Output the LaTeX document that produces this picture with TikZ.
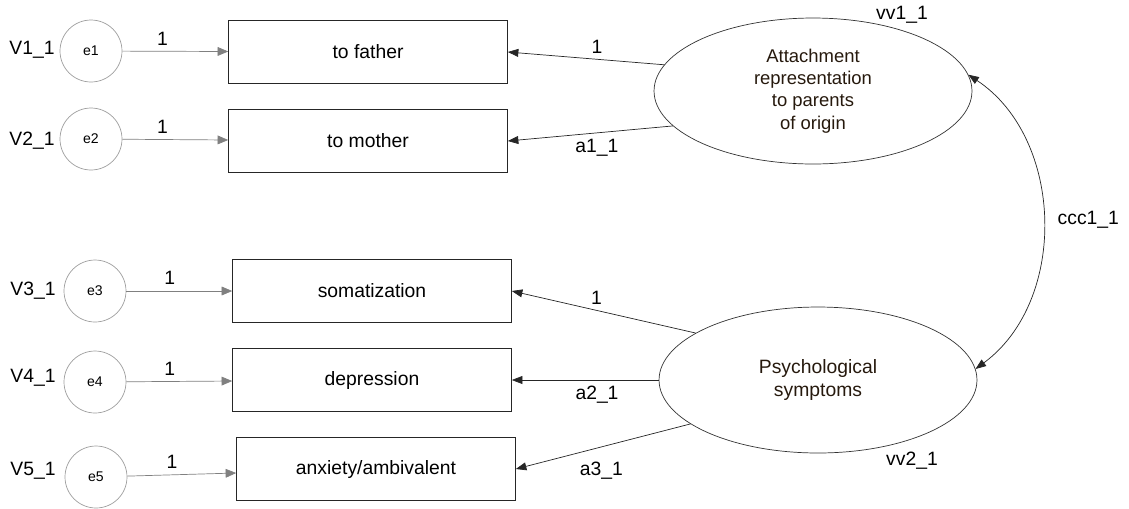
\documentclass[tikz,border=0pt]{standalone}
\usepackage{fontspec}
\setmainfont{Liberation Sans}
\usetikzlibrary{shapes.geometric,arrows.meta}

\begin{document}
\begin{tikzpicture}[x=0.02cm, y=-0.02cm,
  every node/.style={font=\fontsize{11}{13}\selectfont},
  err/.style={circle, draw=gray!75, minimum size=1.24cm, inner sep=0pt, font=\fontsize{8}{10}\selectfont},
  obs/.style={rectangle, draw=black!85, minimum width=5.58cm, minimum height=1.26cm},
  lat/.style={ellipse, draw=black!80, minimum width=6.36cm, minimum height=2.92cm, align=center, text=black!80!brown},
  errarrow/.style={draw=gray, -{Triangle[length=6pt,width=5pt]}},
  load/.style={draw=black!85, -{Triangle[length=6pt,width=4.5pt]}},
  cov/.style={draw=black!85, {Triangle[length=6pt,width=4.5pt]}-{Triangle[length=6pt,width=4.5pt]}}]
\useasboundingbox (0,0) rectangle (1129,508);

\node[err] (e1) at (91,51) {e1};
\node[err] (e2) at (91,139) {e2};
\node[err] (e3) at (95,291) {e3};
\node[err] (e4) at (95,382) {e4};
\node[err] (e5) at (96,477) {e5};

\node (v1) at (32,50) {V1\_1};
\node (v2) at (32,141) {V2\_1};
\node (v3) at (33,291) {V3\_1};
\node (v4) at (33,378) {V4\_1};
\node (v5) at (33,471) {V5\_1};

\node[obs] (fa) at (368,52) {to father};
\node[obs] (mo) at (368,141) {to mother};
\node[obs] (so) at (372,291) {somatization};
\node[obs] (de) at (372,380) {depression};
\node[obs] (an) at (376,469) {anxiety/ambivalent};

\node[lat, font=\fontsize{10.5}{12.7}\selectfont] (att) at (813,91) {Attachment\\representation\\to parents\\of origin};
\node[lat, font=\fontsize{11}{13.6}\selectfont] (psy) at (818,380) {Psychological\\symptoms};

\node (vv1) at (902,15) {vv1\_1};
\node (vv2) at (912,461) {vv2\_1};

\draw[errarrow] (e1) -- node[pos=0.38, above] (w1) {1} (fa);
\draw[errarrow] (e2) -- node[pos=0.38, above] (w2) {1} (mo);
\draw[errarrow] (e3) -- node[pos=0.41, above] (w3) {1} (so);
\draw[errarrow] (e4) -- node[pos=0.41, above] (w4) {1} (de);
\draw[errarrow] (e5) -- node[pos=0.41, above] (w5) {1} (an);

\draw[load] (att.170) -- node[pos=0.43, above] (l1) {1} (fa.east);
\draw[load] (att.194) -- node[pos=0.46, below] (l2) {a1\_1} (mo.east);
\draw[load] (psy.159) -- node[pos=0.54, above] (l3) {1} (so.east);
\draw[load] (psy.west) -- node[pos=0.42, below] (l4) {a2\_1} (de.east);
\draw[load] (psy.199) -- node[pos=0.51, below=5pt] (l5) {a3\_1} (an.east);

\draw[cov] (att.6) to[bend left=55] node[midway, right=5pt] (ccc) {ccc1\_1} (psy.4);
\end{tikzpicture}
\end{document}
